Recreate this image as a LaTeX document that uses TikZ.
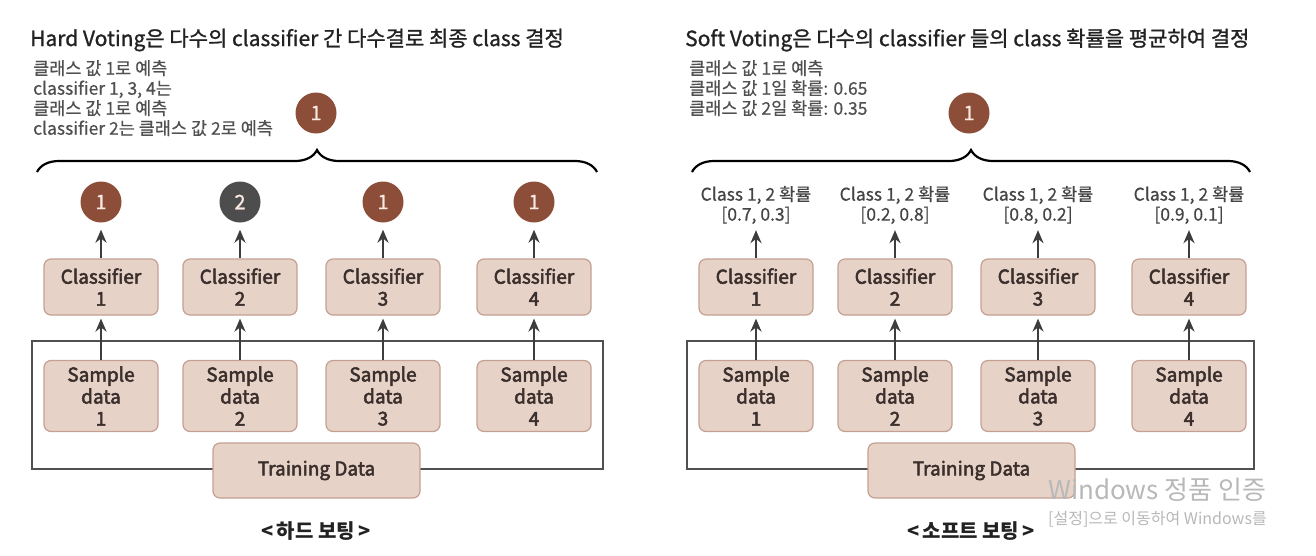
\documentclass[tikz,border=0pt]{standalone}
\usepackage{fontspec}
\setmainfont{Noto Sans CJK KR}
\newfontfamily\medfont[FakeBold=2.6]{Noto Sans CJK KR}
\newfontfamily\semifont[FakeBold=1.1]{Noto Sans CJK KR}
\newfontfamily\notefont[FakeBold=0.5]{Noto Sans CJK KR}
\usetikzlibrary{arrows.meta,decorations.pathreplacing}
\definecolor{boxfill}{RGB}{231,210,200}
\definecolor{boxline}{RGB}{196,160,146}
\definecolor{boxtext}{RGB}{58,47,44}
\definecolor{brownc}{RGB}{140,78,56}
\definecolor{darkc}{RGB}{77,77,77}
\definecolor{circtext}{RGB}{248,234,226}
\definecolor{arrc}{RGB}{61,61,61}
\definecolor{graytext}{RGB}{80,80,80}
\definecolor{titletext}{RGB}{34,34,34}
\begin{document}
\begin{tikzpicture}[x=1pt,y=-1pt,
  box/.style={draw=boxline, fill=boxfill, rounded corners=7pt, line width=1.2pt,
    minimum width=114pt, text=boxtext, align=center, inner sep=0pt,
    font=\fontsize{19}{22}\selectfont\medfont},
  clsbox/.style={box, minimum height=56pt},
  smpbox/.style={box, minimum height=71pt},
  trnbox/.style={box, minimum width=207pt, minimum height=55pt},
  circ/.style={circle, fill=brownc, minimum size=41pt, inner sep=0pt, text=circtext,
    font=\fontsize{20}{22}\selectfont\semifont},
  darkcirc/.style={circ, fill=darkc},
  arr/.style={draw=arrc, line width=2.6pt, -{Stealth[length=13pt,width=11pt]}},
  frame/.style={draw=arrc!90, line width=2.2pt},
  bracestyle/.style={draw=black, line width=2.2pt, decorate,
    decoration={brace, amplitude=22pt}},
  title/.style={anchor=west, inner sep=0pt, text=titletext,
    font=\fontsize{21}{25}\selectfont\semifont},
  note/.style={anchor=north west, inner sep=0pt, align=left, text=graytext,
    font=\fontsize{17.5}{20}\selectfont\notefont},
  prob/.style={inner sep=0pt, align=center, text=graytext!85!black,
    font=\fontsize{17.5}{20}\selectfont\notefont},
  caption/.style={inner sep=0pt, text=titletext, font=\fontsize{20}{22}\selectfont\bfseries},
  wm/.style={anchor=west, inner sep=0pt, text=black!28}
]
\useasboundingbox (0,0) rectangle (1316,555);
\fill[white] (0,0) rectangle (1316,555);

% ================= LEFT: Hard voting =================
\node[title] (ltitle) at (30,40) {Hard Voting은 다수의 classifier 간 다수결로 최종 class 결정};
\node[note] (lnote) at (33,60) {클래스 값 1로 예측\\classifier 1, 3, 4는\\클래스 값 1로 예측\\classifier 2는 클래스 값 2로 예측};
\node[circ] (lbig) at (316,113) {1};
\coordinate (lbL) at (37,172);
\coordinate (lbR) at (597,172);
\draw[bracestyle] (lbL) -- (lbR);

\draw[frame] (32,341) rectangle (603,469);

\foreach \i/\x in {1/101,2/240,3/383,4/534}{
  \node[clsbox] (lc\i) at (\x,287) {Classifier\\\i};
  \node[smpbox] (ls\i) at (\x,396) {Sample\\data\\\i};
}
\node[circ] (lo1) at (101,202) {1};
\node[darkcirc] (lo2) at (240,202) {2};
\node[circ] (lo3) at (383,202) {1};
\node[circ] (lo4) at (534,202) {1};
\node[trnbox] (lt) at (316.5,470.5) {Training Data};

\foreach \i in {1,...,4}{
  \draw[arr, shorten >=3pt] (ls\i.north) -- (lc\i.south);
  \draw[arr, shorten >=7pt] (lc\i.north) -- (lo\i.south);
}
\node[caption] (lcap) at (316,531) {<\,하드 보팅\,>};

% ================= RIGHT: Soft voting =================
\node[title] (rtitle) at (685,40) {Soft Voting은 다수의 classifier 들의 class 확률을 평균하여 결정};
\node[note] (rnote) at (689,60) {클래스 값 1로 예측\\클래스 값 1일 확률: 0.65\\클래스 값 2일 확률: 0.35};
\node[circ] (rbig) at (969,113) {1};
\coordinate (rbL) at (692,172);
\coordinate (rbR) at (1250,172);
\draw[bracestyle] (rbL) -- (rbR);

\draw[frame] (687,341) rectangle (1254,469);

\foreach \i/\x/\p in {1/756/{[0.7, 0.3]},2/895/{[0.2, 0.8]},3/1038/{[0.8, 0.2]},4/1189/{[0.9, 0.1]}}{
  \node[clsbox] (rc\i) at (\x,287) {Classifier\\\i};
  \node[smpbox] (rs\i) at (\x,396) {Sample\\data\\\i};
  \node[prob] (rp\i) at (\x,205) {Class 1, 2 확률\\{\p}};
}
\node[trnbox] (rt) at (971.5,470.5) {Training Data};

\foreach \i in {1,...,4}{
  \draw[arr, shorten >=3pt] (rs\i.north) -- (rc\i.south);
  \draw[arr, shorten >=6pt] (rc\i.north) -- (rp\i.south);
}
\node[caption] (rcap) at (971,531) {<\,소프트 보팅\,>};

% ================= screen watermark =================
\node[wm, font=\fontsize{26}{28}\selectfont] (wm1) at (1048,490) {Windows 정품 인증};
\node[wm, font=\fontsize{16}{18}\selectfont] (wm2) at (1048,519) {[설정]으로 이동하여 Windows를};
\end{tikzpicture}
\end{document}
